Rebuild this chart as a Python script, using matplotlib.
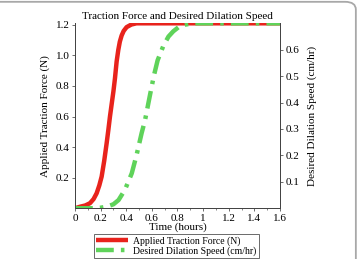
import matplotlib
matplotlib.use("Agg")
import matplotlib.pyplot as plt
from matplotlib.patches import FancyBboxPatch
from matplotlib.ticker import MultipleLocator, FuncFormatter

plt.rcParams['font.family'] = ['Liberation Serif', 'DejaVu Serif']

t_force = [0, 0.04, 0.08, 0.117, 0.145, 0.169, 0.19, 0.208, 0.228, 0.247, 0.26,
           0.273, 0.286, 0.30, 0.312, 0.325, 0.338, 0.35, 0.364, 0.38, 0.403,
           0.44, 0.48, 1.6]
force = [0, 0.01, 0.018, 0.033, 0.06, 0.098, 0.15, 0.207, 0.31, 0.425, 0.51,
         0.6, 0.68, 0.765, 0.85, 0.96, 1.036, 1.09, 1.13, 1.16, 1.185,
         1.202, 1.21, 1.21]

t_speed = [0, 0.15, 0.2, 0.25, 0.3, 0.34, 0.39, 0.443, 0.48, 0.52, 0.547, 0.586,
           0.615, 0.645, 0.69, 0.73, 0.768, 0.81, 0.846, 0.92, 1.6]
speed = [0, 0.0, 0.002, 0.006, 0.015, 0.031, 0.07, 0.132, 0.2, 0.284, 0.334, 0.43,
         0.5, 0.56, 0.615, 0.65, 0.67, 0.686, 0.694, 0.7, 0.7]

left_ticks = [0.2, 0.4, 0.6, 0.8, 1.0, 1.2]
right_ticks = [0.1, 0.2, 0.3, 0.4, 0.5, 0.6]
x_ticks = [0, 0.2, 0.4, 0.6, 0.8, 1, 1.2, 1.4, 1.6]

fig = plt.figure(figsize=(3.58, 2.59), dpi=100)
# panel frame, only top and right edges fall inside the image
fig.patches.append(FancyBboxPatch((-0.05, -0.05), 1.044, 1.043, boxstyle="round,pad=0,rounding_size=0.03",
                                  transform=fig.transFigure, fill=False, ec='#a8a8a8', lw=1.3))
ax = fig.add_axes([0.2095, 0.196, 0.5725, 0.714])
ax2 = ax.twinx()

l1, = ax.plot(t_force, force, color='#e8231c', lw=3.2, solid_capstyle='butt',
              label='Applied Traction Force (N)')
l2, = ax2.plot(t_speed, speed, color='#5fd35a', lw=3.2, dashes=(4, 1.6, 0.8, 1.6),
               label='Desired Dilation Speed (cm/hr)')

ax.set_xlim(0, 1.6)
ax.set_ylim(0, 1.21)
ax2.set_ylim(0, 0.7)
ax.set_yticks(left_ticks)
ax2.set_yticks(right_ticks)
ax.set_xticks(x_ticks)
ax.xaxis.set_minor_locator(MultipleLocator(0.1))
ax.xaxis.set_major_formatter(FuncFormatter(lambda v, p: '%g' % v))
ax.yaxis.set_major_formatter(FuncFormatter(lambda v, p: '%.1f' % v))
ax2.yaxis.set_major_formatter(FuncFormatter(lambda v, p: '%.1f' % v))

for a in (ax, ax2):
    a.spines['top'].set_visible(False)
    a.tick_params(labelsize=8, length=2.5, width=0.6, pad=1.5, color='#555555')
    a.tick_params(which='minor', length=1.5, width=0.5, color='#555555')
    for s in a.spines.values():
        s.set_linewidth(0.7)
        s.set_color('#444444')

ax.set_title('Traction Force and Desired Dilation Speed', fontsize=8, pad=3)
ax.set_xlabel('Time (hours)', fontsize=8, labelpad=0)
ax.set_ylabel('Applied Traction Force (N)', fontsize=8, labelpad=4)
ax2.set_ylabel('Desired Dilation Speed (cm/hr)', fontsize=8, labelpad=6)

leg = fig.legend(handles=[l1, l2], loc='lower center', bbox_to_anchor=(0.493, 0.0),
                 fontsize=7, frameon=True, fancybox=False, edgecolor='#444444',
                 handlelength=3.2, borderpad=0.2, labelspacing=0.1, handletextpad=0.6,
                 borderaxespad=0.1)
leg.get_frame().set_linewidth(0.7)

fig.savefig('out.png', dpi=100)
